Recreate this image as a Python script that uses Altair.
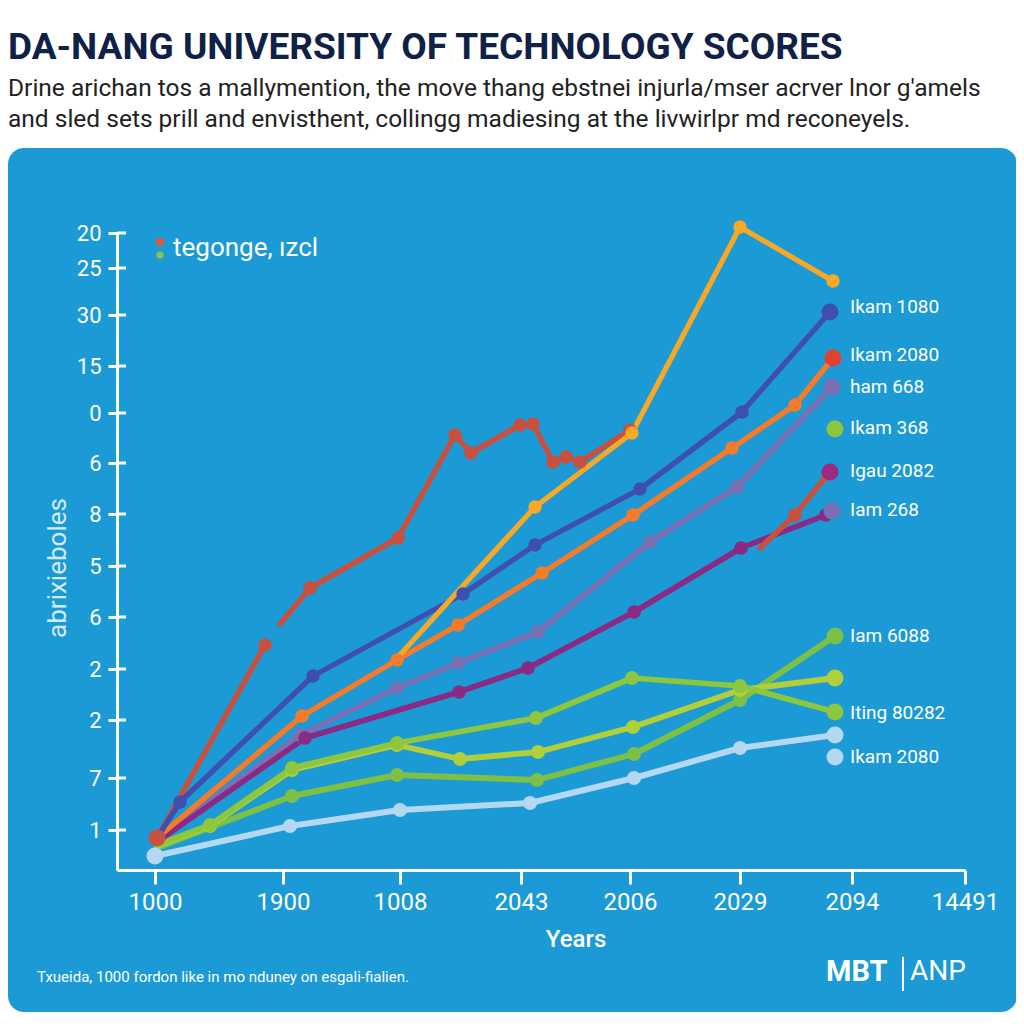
import altair as alt
import pandas as pd

TITLE = "DA-NANG UNIVERSITY OF TECHNOLOGY SCORES"
SUB1 = "Drine arichan tos a mallymention, the move thang ebstnei injurla/mser acrver lnor g'amels"
SUB2 = "and sled sets prill and envisthent, collingg madiesing at the livwirlpr md reconeyels."
LEGEND_TXT = "tegonge, ızcl"
Y_TITLE = "abrixieboles"
X_TITLE = "Years"
FOOT = "Txueida, 1000 fordon like in mo nduney on esgali-fialien."

x_tick_labels = ["1000", "1900", "1008", "2043", "2006", "2029", "2094", "14491"]
x_tick_pos = [0.38, 1.66, 2.83, 4.04, 5.13, 6.23, 7.35, 8.48]
y_tick_labels = ["1", "7", "2", "2", "6", "5", "8", "6", "0", "15", "30", "25", "20"]
y_tick_pos = [0.8, 1.84, 3.0, 4.02, 5.06, 6.08, 7.12, 8.14, 9.14, 10.08, 11.1, 12.04, 12.74]

lblue_x = [0.38, 1.73, 2.83, 4.13, 5.17, 6.23, 7.18]
lblue_y = [0.28, 0.88, 1.2, 1.34, 1.84, 2.44, 2.7]
g3_x = [0.40, 1.75, 2.80, 4.20, 5.17, 6.23, 7.18]
g3_y = [0.44, 1.48, 1.9, 1.8, 2.32, 3.4, 4.68]
g2_x = [0.40, 0.93, 1.75, 2.80, 3.43, 4.21, 5.16, 6.23, 7.18]
g2_y = [0.48, 0.88, 2.0, 2.5, 2.22, 2.36, 2.86, 3.6, 3.84]
g1_x = [0.40, 0.93, 1.75, 2.80, 4.19, 5.15, 6.23, 7.18]
g1_y = [0.5, 0.9, 2.04, 2.54, 3.04, 3.84, 3.68, 3.16]
lav_x = [0.40, 1.83, 2.80, 3.41, 4.21, 5.33, 6.20, 7.15]
lav_y = [0.6, 2.7, 3.64, 4.14, 4.76, 6.56, 7.66, 9.66]
pur_x = [0.40, 1.88, 3.42, 4.11, 5.17, 6.24, 7.09]
pur_y = [0.56, 2.64, 3.56, 4.04, 5.16, 6.44, 7.1]
red1_x = [0.40, 1.48]
red1_y = [0.64, 4.5]
red2_x = [1.63, 1.93, 2.81, 3.38, 3.54, 4.03, 4.16, 4.36, 4.49, 4.63, 5.13]
red2_y = [4.92, 5.64, 6.64, 8.7, 8.34, 8.9, 8.92, 8.16, 8.26, 8.16, 8.8]
red3_x = [6.43, 6.78, 7.11]
red3_y = [6.44, 7.1, 7.92]
org_x = [0.40, 1.85, 2.80, 3.41, 4.25, 5.16, 6.15, 6.78, 7.16]
org_y = [0.64, 3.08, 4.2, 4.9, 5.94, 7.1, 8.44, 9.3, 10.24]
blue_x = [0.40, 0.63, 1.96, 3.46, 4.18, 5.23, 6.25, 7.13]
blue_y = [0.64, 1.36, 3.88, 5.52, 6.5, 7.62, 9.16, 11.16]
yel_x = [2.80, 4.18, 5.15, 6.23, 7.16]
yel_y = [4.24, 7.26, 8.74, 12.86, 11.78]

series = [
    ("lightblue", [(lblue_x, lblue_y)]),
    ("green3", [(g3_x, g3_y)]),
    ("green2", [(g2_x, g2_y)]),
    ("green1", [(g1_x, g1_y)]),
    ("lavender", [(lav_x, lav_y)]),
    ("purple", [(pur_x, pur_y)]),
    ("red", [(red1_x, red1_y), (red2_x, red2_y), (red3_x, red3_y)]),
    ("orange", [(org_x, org_y)]),
    ("blue", [(blue_x, blue_y)]),
    ("yellow", [(yel_x, yel_y)]),
]

# end / highlight markers and their labels
end_series = ["red", "lightblue", "blue", "reddot", "lavender", "greendot", "magenta",
              "lavender", "green3", "green2", "green1", "lightblue", "lightblue"]
end_x = [0.40, 0.38, 7.13, 7.16, 7.15, 7.18, 7.13, 7.15, 7.18, 7.18, 7.18, 7.18, 7.18]
end_y = [0.64, 0.28, 11.16, 10.24, 9.66, 8.82, 7.96, 7.18, 4.68, 3.84, 3.16, 2.7, 2.26]

label_text = ["Ikam 1080", "Ikam 2080", "ham 668", "Ikam 368", "Igau 2082", "Iam 268",
              "Iam 6088", "Iting 80282", "Ikam 2080"]
label_y = [11.26, 10.3, 9.66, 8.84, 7.98, 7.2, 4.68, 3.14, 2.26]

color_domain = ["lightblue", "green3", "green2", "green1", "lavender", "purple", "red",
                "orange", "blue", "yellow", "reddot", "greendot", "magenta"]
color_range = ["#b4d8f2", "#7cc145", "#b0cf3a", "#8dc63f", "#7a70b4", "#8a2a84", "#c8503f",
               "#f47b2a", "#3f4fae", "#f8a827", "#e2412f", "#8cc63f", "#9b2a80"]
width_range = [6, 5, 5, 5, 4, 4, 2.5, 4, 5, 4, 3, 3, 3]
size_range = [200, 170, 200, 150, 170, 210, 35, 100, 260, 250, 250, 250, 250]

rows = []
for name, segs in series:
    for k, (xs, ys) in enumerate(segs):
        for i, (xv, yv) in enumerate(zip(xs, ys)):
            rows.append(dict(series=name, seg=f"{name}{k}", i=i, x=xv, y=yv))
df = pd.DataFrame(rows)
df["o"] = range(len(df))

ends = pd.DataFrame(dict(series=end_series, x=end_x, y=end_y))
labels = pd.DataFrame(dict(label=label_text, y=label_y))
yticks = pd.DataFrame(dict(y=y_tick_pos))

xscale = alt.Scale(domain=[0, 8.48], nice=False, zero=False)
yscale = alt.Scale(domain=[0, 12.74], nice=False, zero=False)
cscale = alt.Scale(domain=color_domain, range=color_range)

xlab_expr = "[" + ",".join(f"'{s}'" for s in x_tick_labels) + "][indexof([" + \
    ",".join(str(v) for v in x_tick_pos) + "], datum.value)]"
ylab_expr = "[" + ",".join(f"'{s}'" for s in y_tick_labels) + "][indexof([" + \
    ",".join(str(v) for v in y_tick_pos) + "], datum.value)]"

xaxis = alt.Axis(values=x_tick_pos, labelExpr=xlab_expr, title=None, grid=False,
                 domainColor="white", domainWidth=3, tickColor="white", tickWidth=3,
                 tickSize=14, labelColor="white", labelFontSize=24, labelFont="Roboto",
                 labelPadding=6, labelFlush=False, labelOverlap=False, zindex=1)
yaxis = alt.Axis(values=y_tick_pos, labelExpr=ylab_expr, title=None, grid=False,
                 domainColor="white", domainWidth=3, tickColor="white", tickWidth=3,
                 tickSize=9, labelColor="white", labelFontSize=22, labelFont="Roboto",
                 labelPadding=7, labelOverlap=False, labelFlush=False, zindex=1)

one = pd.DataFrame({"k": [0]})

panel = alt.Chart(one).mark_rect(color="#1b9ad5", cornerRadius=16).encode(
    x=alt.value(-109), x2=alt.value(900), y=alt.value(-85), y2=alt.value(779))

def text_layer(txt, x, y, size, color="white", weight="normal", align="left",
               baseline="alphabetic", angle=0, font="Roboto"):
    return alt.Chart(pd.DataFrame({"t": [txt]})).mark_text(
        align=align, baseline=baseline, fontSize=size, fontWeight=weight,
        color=color, font=font, angle=angle).encode(
        text="t:N", x=alt.value(x), y=alt.value(y))

title = text_layer(TITLE, -109, -174, 37, color="#0f2147", weight="bold")
sub1 = text_layer(SUB1, -109, -137, 24.5, color="#222222")
sub2 = text_layer(SUB2, -109, -106, 24.5, color="#222222")
leg_txt = text_layer(LEGEND_TXT, 56, 15, 26, baseline="middle")
leg_m1 = alt.Chart(one).mark_square(color="#f0532d", opacity=1, size=50).encode(
    x=alt.value(43), y=alt.value(9))
leg_m2 = alt.Chart(one).mark_circle(color="#8cc63f", opacity=1, size=50).encode(
    x=alt.value(43), y=alt.value(22))
ytitle = text_layer(Y_TITLE, -59, 335, 26, color="#d5ebf7", align="center",
                    baseline="middle", angle=270)
xtitle = text_layer(X_TITLE, 459, 707, 24, align="center", baseline="middle", weight=500)
foot = text_layer(FOOT, -80, 744, 15, baseline="middle")
mbt = text_layer("MBT", 709, 739, 29, weight="bold", baseline="middle")
anp = text_layer("ANP", 793, 739, 28, baseline="middle")
divider = alt.Chart(one).mark_rule(color="white", strokeWidth=2).encode(
    x=alt.value(786), y=alt.value(724), y2=alt.value(758))

inner_ticks = alt.Chart(yticks).mark_rule(color="white", strokeWidth=3).encode(
    y=alt.Y("y:Q", scale=yscale, axis=yaxis), x=alt.value(0), x2=alt.value(9))

lines = alt.Chart(df).mark_line(strokeCap="round", strokeJoin="round").encode(
    x=alt.X("x:Q", scale=xscale, axis=xaxis),
    y=alt.Y("y:Q", scale=yscale, axis=yaxis),
    color=alt.Color("series:N", scale=cscale, legend=None),
    strokeWidth=alt.StrokeWidth("series:N", scale=alt.Scale(domain=color_domain, range=width_range), legend=None),
    detail="seg:N",
    order="o:Q",
)

pts = alt.Chart(df).transform_filter("datum.i > 0").mark_circle(opacity=1).encode(
    x=alt.X("x:Q", scale=xscale),
    y=alt.Y("y:Q", scale=yscale),
    color=alt.Color("series:N", scale=cscale, legend=None),
    size=alt.Size("series:N", scale=alt.Scale(domain=color_domain, range=size_range), legend=None),
)

end_pts = alt.Chart(ends).mark_circle(opacity=1, size=290).encode(
    x=alt.X("x:Q", scale=xscale),
    y=alt.Y("y:Q", scale=yscale),
    color=alt.Color("series:N", scale=cscale, legend=None),
)

lbls = alt.Chart(labels).mark_text(align="left", baseline="middle", fontSize=19,
                                   color="white", font="Roboto").encode(
    x=alt.value(733), y=alt.Y("y:Q", scale=yscale), text="label:N")

chart = alt.layer(
    panel, title, sub1, sub2, leg_m1, leg_m2, leg_txt, ytitle, xtitle, foot, mbt, anp,
    divider, inner_ticks, lines, pts, end_pts, lbls
).properties(
    width=848, height=637,
    autosize=alt.AutoSizeParams(type="none"),
    padding={"left": 109, "top": 225, "right": 51, "bottom": 150},
    background="white",
).configure_view(stroke=None).resolve_scale(size="independent")

chart.save("out.html", embed_options={"renderer": "svg", "actions": False})
